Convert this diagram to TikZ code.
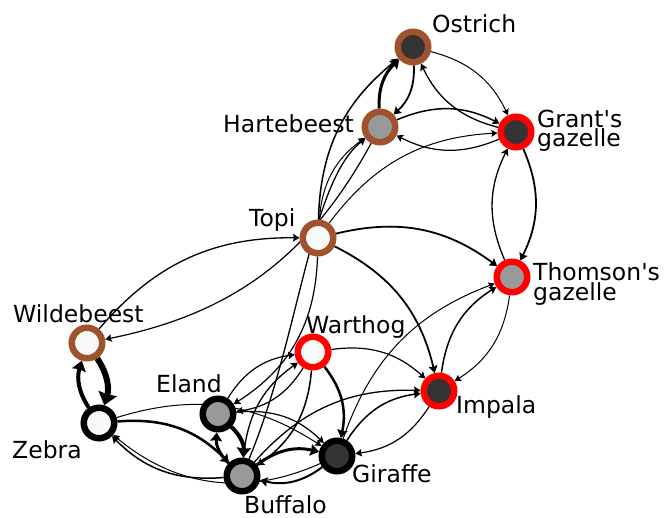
\documentclass[tikz,border=0pt]{standalone}
\usepackage{fontspec}
\setmainfont{DejaVu Sans}[Ligatures=TeXOff]
\usetikzlibrary{arrows.meta}
\definecolor{brn}{RGB}{160,82,45}
\definecolor{rd}{RGB}{255,0,0}
\definecolor{dk}{RGB}{51,51,51}
\definecolor{gy}{RGB}{153,153,153}
\definecolor{wt}{RGB}{248,248,248}
\pgfdeclarelayer{bg}
\pgfsetlayers{bg,main}
\begin{document}
\begin{tikzpicture}[x=1pt,y=-1pt,
  animal/.style={circle, minimum size=30.5pt, inner sep=0pt, line width=6.5pt, outer sep=3.25pt},
  lbl/.style={font=\fontsize{23.5}{18}\selectfont, inner sep=0pt, anchor=base west, align=left},
  edg/.style={-{Stealth[length=5pt 1.2, width=4.5pt 2.4, inset=1pt]}, bend left=25, line width=#1},
  edg/.default=1pt
]
\useasboundingbox (0,0) rectangle (668,518);
% nodes
\node[animal, draw=brn, fill=dk] (ost) at (413,47) {};
\node[animal, draw=brn, fill=gy] (hart) at (380,127) {};
\node[animal, draw=rd, fill=dk] (grant) at (516,132) {};
\node[animal, draw=brn, fill=wt] (topi) at (318,238) {};
\node[animal, draw=rd, fill=gy] (thom) at (512,277) {};
\node[animal, draw=brn, fill=wt] (wild) at (87,343) {};
\node[animal, draw=rd, fill=wt] (wart) at (313,352) {};
\node[animal, draw=rd, fill=dk] (imp) at (439,391) {};
\node[animal, draw=black, fill=wt] (zeb) at (99,423) {};
\node[animal, draw=black, fill=gy] (eland) at (218,414) {};
\node[animal, draw=black, fill=gy] (buf) at (242,476) {};
\node[animal, draw=black, fill=dk] (gir) at (337,456) {};
% labels
\node[lbl] (lost) at (432,33) {Ostrich};
\node[lbl] (lhart) at (223,133) {Hartebeest};
\node[lbl] (lgrant) at (537,147) {Grant's\\gazelle};
\node[lbl] (lthom) at (533,300) {Thomson's\\gazelle};
\node[lbl] (ltopi) at (249,227) {Topi};
\node[lbl] (lwild) at (13,322) {Wildebeest};
\node[lbl] (lwart) at (306,333) {Warthog};
\node[lbl] (leland) at (156,392) {Eland};
\node[lbl] (lzeb) at (12,458) {Zebra};
\node[lbl] (limp) at (456,413) {Impala};
\node[lbl] (lgir) at (352,482) {Giraffe};
\node[lbl] (lbuf) at (244,513) {Buffalo};
% edges
\begin{pgfonlayer}{bg}
\draw[edg=3pt] (hart) to (ost);
\draw[edg=1.8pt] (ost) to (hart);
\draw[edg=1.5pt] (topi) to (ost);
\draw[edg=1.3pt] (grant) to (ost);
\draw[edg=1pt] (ost) to (grant);
\draw[edg=1.5pt] (hart) to (grant);
\draw[edg=1.2pt] (grant) to (hart);
\draw[edg=1pt] (topi) to (grant);
\draw[edg=1pt] (topi) to (hart);
\draw[edg=1.3pt] (buf) .. controls +(58,-140) and +(-70,55) .. (hart);
\draw[edg=1.2pt] (hart) to (wild);
\draw[edg=1.3pt] (wild) to (topi);
\draw[edg=1.3pt] (thom) to (grant);
\draw[edg=1.8pt] (grant) to (thom);
\draw[edg=1.8pt] (topi) to (thom);
\draw[edg=1.8pt] (topi) to (imp);
\draw[edg=1pt] (thom) to (imp);
\draw[edg=1.5pt] (imp) to (thom);
\draw[edg=1pt] (gir) to (thom);
\draw[edg=1.2pt] (wart) to (imp);
\draw[edg=2.5pt] (wart) to (gir);
\draw[edg=1.2pt, bend left=28] (topi) to (eland);
\draw[edg=4pt] (zeb) to (wild);
\draw[edg=6pt] (wild) to (zeb);
\draw[edg=2.5pt] (zeb) to (buf);
\draw[edg=1.5pt] (buf) to (zeb);
\draw[edg=1pt, bend left=32] (gir) to (zeb);
\draw[edg=1pt] (zeb) to (gir);
\draw[edg=4pt] (eland) to (buf);
\draw[edg=3pt] (buf) to (eland);
\draw[edg=3pt] (buf) to (gir);
\draw[edg=2pt] (gir) to (buf);
\draw[edg=1.3pt] (buf) to (wart);
\draw[edg=1.5pt] (wart) to (buf);
\draw[edg=1.2pt] (eland) to (wart);
\draw[edg=1.2pt] (wart) to (eland);
\draw[edg=1.2pt] (eland) to (gir);
\draw[edg=1.3pt] (buf) to (imp);
\draw[edg=1.5pt] (gir) to (imp);
\draw[edg=1.2pt] (imp) to (gir);
\end{pgfonlayer}
\end{tikzpicture}
\end{document}
